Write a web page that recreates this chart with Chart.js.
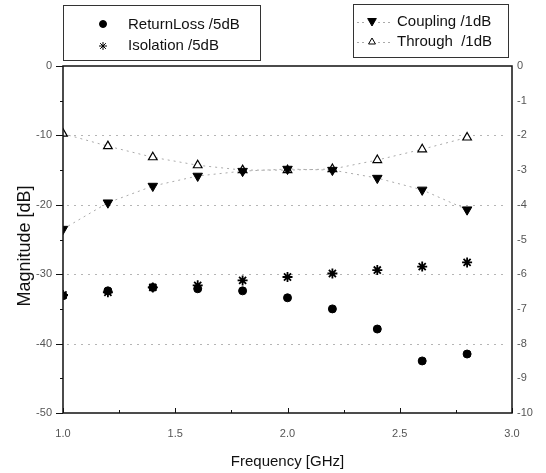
<!DOCTYPE html>
<html>
<head>
<meta charset="utf-8">
<script src="https://cdn.jsdelivr.net/npm/chart.js@4/dist/chart.umd.min.js"></script>
<style>
html,body{margin:0;padding:0;background:#fff;}
#wrap{position:relative;width:546px;height:473px;}
</style>
</head>
<body>
<div id="wrap"><canvas id="c" width="546" height="473"></canvas></div>
<script>
const freq = [1.0, 1.2, 1.4, 1.6, 1.8, 2.0, 2.2, 2.4, 2.6, 2.8];
const returnLoss = [-33.1, -32.4, -31.9, -32.1, -32.4, -33.4, -35.0, -37.9, -42.5, -41.5];
const isolation = [-33.0, -32.6, -31.9, -31.6, -30.9, -30.4, -29.9, -29.4, -28.9, -28.3];
const coupling = [-4.7, -3.94, -3.46, -3.17, -3.03, -2.97, -3.0, -3.23, -3.57, -4.14];
const through = [-1.95, -2.31, -2.63, -2.86, -3.0, -3.0, -2.97, -2.71, -2.4, -2.06];
const xTicks = [1.0, 1.5, 2.0, 2.5, 3.0];
const leftTicks = [0, -10, -20, -30, -40, -50];
const rightTicks = [0, -1, -2, -3, -4, -5, -6, -7, -8, -9, -10];

const pts = (ys) => freq.map((f, i) => ({x: f, y: ys[i]}));
const FONT = "'Liberation Sans', Arial, sans-serif";

const framePlugin = {
  id: 'frame',
  beforeDatasetsDraw(chart) {
    const {ctx, chartArea: a, scales} = chart;
    const yL = scales.y;
    ctx.save();
    ctx.strokeStyle = '#b5b5b5';
    ctx.lineWidth = 1;
    ctx.setLineDash([2, 5]);
    [-10, -20, -30, -40].forEach(v => {
      const y = Math.round(yL.getPixelForValue(v)) + 0.5;
      ctx.beginPath(); ctx.moveTo(a.left + 4, y); ctx.lineTo(a.right - 4, y); ctx.stroke();
    });
    ctx.setLineDash([]);
    ctx.restore();
  },
  afterDraw(chart) {
    const {ctx, chartArea: a, scales} = chart;
    const yL = scales.y, x = scales.x;
    ctx.save();
    ctx.strokeStyle = '#111';
    ctx.lineWidth = 1.5;
    ctx.strokeRect(a.left, a.top, a.right - a.left, a.bottom - a.top);
    ctx.lineWidth = 1;
    for (let v = 0; v >= -50; v -= 5) {
      const y = Math.round(yL.getPixelForValue(v)) + 0.5;
      const len = (v % 10 === 0) ? 7 : 3;
      ctx.beginPath(); ctx.moveTo(a.left - len, y); ctx.lineTo(a.left, y); ctx.stroke();
    }
    for (let v = 1.0; v <= 3.001; v += 0.25) {
      const px = Math.round(x.getPixelForValue(v)) + 0.5;
      const len = (Math.abs(v * 2 - Math.round(v * 2)) < 1e-6) ? 5 : 3;
      ctx.beginPath(); ctx.moveTo(px, a.bottom); ctx.lineTo(px, a.bottom - len); ctx.stroke();
    }
    // y-axis title
    ctx.save();
    ctx.translate(25, 246);
    ctx.rotate(-Math.PI / 2);
    ctx.font = '18px ' + FONT;
    ctx.fillStyle = '#111';
    ctx.textAlign = 'center';
    ctx.textBaseline = 'middle';
    ctx.fillText('Magnitude [dB]', 0, 0);
    ctx.restore();
    // legends
    const H = Chart.helpers;
    ctx.lineWidth = 1;
    ctx.strokeStyle = '#333';
    ctx.strokeRect(63.5, 5.5, 197, 55);
    ctx.strokeRect(353.5, 4.5, 155, 53);
    ctx.font = '15px ' + FONT;
    ctx.fillStyle = '#111';
    ctx.textBaseline = 'middle';
    ctx.textAlign = 'left';
    ctx.fillText('ReturnLoss /5dB', 128, 25);
    ctx.fillText('Isolation /5dB', 128, 46);
    ctx.fillText('Coupling /1dB', 397, 22);
    ctx.fillText('Through  /1dB', 397, 42);
    ctx.fillStyle = '#000'; ctx.strokeStyle = '#000';
    H.drawPoint(ctx, {pointStyle: 'circle', radius: 3.5, rotation: 0, borderWidth: 1}, 103, 24);
    H.drawPoint(ctx, {pointStyle: 'star', radius: 4, rotation: 0, borderWidth: 1.5}, 103, 46);
    ctx.strokeStyle = '#aaa'; ctx.setLineDash([2, 3]);
    [22, 42].forEach(y => {
      ctx.beginPath(); ctx.moveTo(357, y + 0.5); ctx.lineTo(366, y + 0.5); ctx.stroke();
      ctx.beginPath(); ctx.moveTo(378, y + 0.5); ctx.lineTo(390, y + 0.5); ctx.stroke();
    });
    ctx.setLineDash([]);
    ctx.fillStyle = '#000'; ctx.strokeStyle = '#000';
    H.drawPoint(ctx, {pointStyle: 'triangle', radius: 5, rotation: 180, borderWidth: 1}, 372, 21);
    ctx.fillStyle = '#fff';
    H.drawPoint(ctx, {pointStyle: 'triangle', radius: 4, rotation: 0, borderWidth: 1.2}, 372, 42);
    ctx.restore();
  }
};

new Chart(document.getElementById('c'), {
  type: 'line',
  data: {
    datasets: [
      {label: 'ReturnLoss /5dB', data: pts(returnLoss), yAxisID: 'y', showLine: false,
       pointStyle: 'circle', pointRadius: 4, backgroundColor: '#000', borderColor: '#000', pointBorderWidth: 1},
      {label: 'Isolation /5dB', data: pts(isolation), yAxisID: 'y', showLine: false,
       pointStyle: 'star', pointRadius: 5, backgroundColor: '#000', borderColor: '#000', pointBorderWidth: 1.8},
      {label: 'Coupling /1dB', data: pts(coupling), yAxisID: 'y2', showLine: true,
       borderColor: '#aaa', borderWidth: 1, borderDash: [2, 4], pointStyle: 'triangle', pointRotation: 180,
       pointRadius: 5.5, pointBackgroundColor: '#000', pointBorderColor: '#000', pointBorderWidth: 1, tension: 0},
      {label: 'Through /1dB', data: pts(through), yAxisID: 'y2', showLine: true,
       borderColor: '#aaa', borderWidth: 1, borderDash: [2, 4], pointStyle: 'triangle',
       pointRadius: 5, pointBackgroundColor: '#fff', pointBorderColor: '#000', pointBorderWidth: 1.2, tension: 0}
    ]
  },
  options: {
    responsive: false,
    animation: false,
    layout: {padding: {top: 66, left: 0, right: 0, bottom: 0}},
    plugins: {legend: {display: false}, tooltip: {enabled: false}},
    scales: {
      x: {
        type: 'linear', min: 1, max: 3,
        afterBuildTicks: s => { s.ticks = xTicks.map(v => ({value: v})); },
        afterFit: s => { s.height = 60; },
        grid: {display: false, drawTicks: false},
        border: {display: false},
        ticks: {padding: 14, color: '#555', font: {family: FONT, size: 11}, callback: v => v.toFixed(1)},
        title: {display: true, text: 'Frequency [GHz]', color: '#111', font: {family: FONT, size: 15}, padding: {top: 0, bottom: 2}}
      },
      y: {
        position: 'left', min: -50, max: 0,
        afterBuildTicks: s => { s.ticks = leftTicks.map(v => ({value: v})); },
        afterFit: s => { s.width = 63; },
        grid: {display: false, drawTicks: false},
        border: {display: false},
        ticks: {padding: 11, color: '#555', font: {family: FONT, size: 11}}
      },
      y2: {
        position: 'right', min: -10, max: 0,
        afterBuildTicks: s => { s.ticks = rightTicks.map(v => ({value: v})); },
        afterFit: s => { s.width = 34; },
        grid: {display: false, drawTicks: false},
        border: {display: false},
        ticks: {padding: 5, color: '#555', font: {family: FONT, size: 11}}
      }
    }
  },
  plugins: [framePlugin]
});
</script>
</body>
</html>
